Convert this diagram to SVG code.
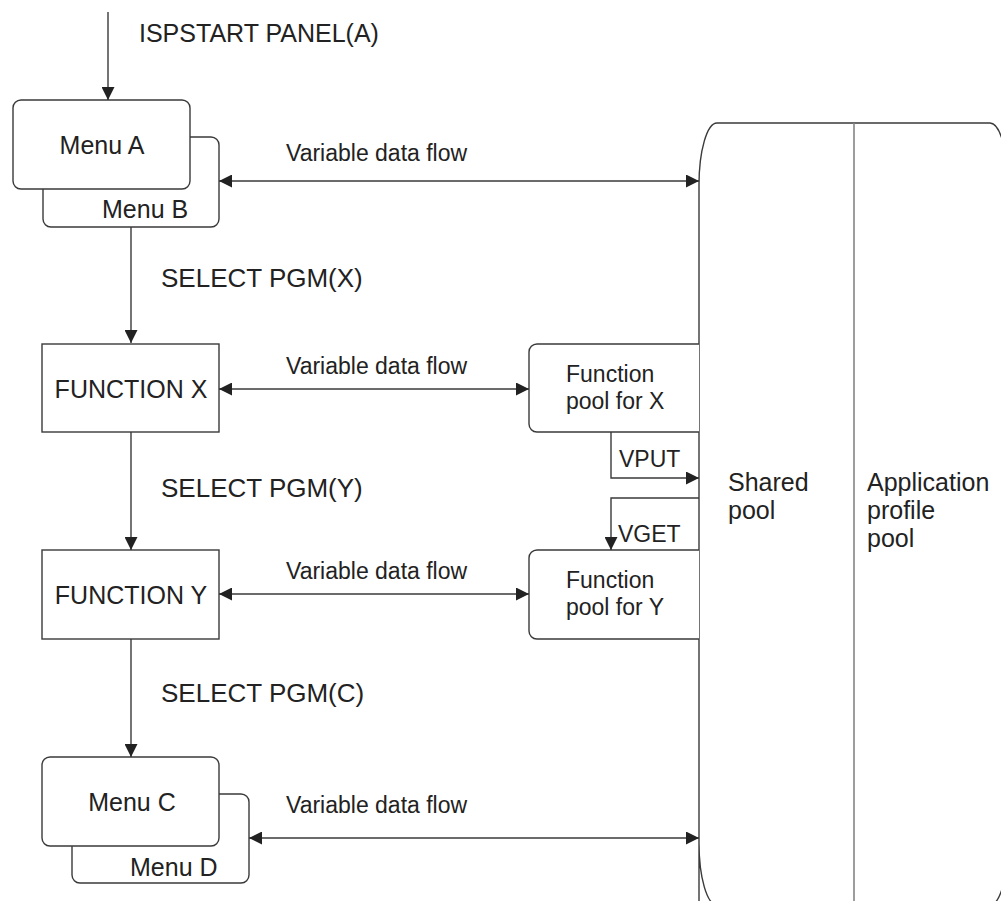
<svg xmlns="http://www.w3.org/2000/svg" width="1001" height="901" viewBox="0 0 1001 901">
<style>
  text { font-family: "Liberation Sans", Arial, Helvetica, sans-serif; fill: #222; }
  .t25 { font-size: 25px; }
  .t23 { font-size: 23px; }
  .t26 { font-size: 26px; }
  .box { fill: #fff; stroke: #3a3a3a; stroke-width: 1.4; }
  .conn { fill: none; stroke: #3a3a3a; stroke-width: 1.4; }
  .div { fill: none; stroke: #858585; stroke-width: 1.6; }
  .mid { text-anchor: middle; }
</style>
<defs>
  <marker id="arr" markerUnits="userSpaceOnUse" markerWidth="14" markerHeight="13" refX="13" refY="6.5" orient="auto-start-reverse">
    <path d="M0,0 L13,6.5 L0,13 z" fill="#222"/>
  </marker>
</defs>

<g id="pool">
  <path class="box" d="M699,905 V185 A18,62 0 0 1 717,123 H990 A18,62 0 0 1 1008,185 V843 A18,62 0 0 1 990,905 H717 A18,62 0 0 1 699,843 Z"/>
  <line class="div" x1="854" y1="123" x2="854" y2="905"/>
  <text class="t25" x="728" y="491">Shared</text>
  <text class="t25" x="728" y="519">pool</text>
  <text class="t25" x="867" y="491">Application</text>
  <text class="t25" x="867" y="519">profile</text>
  <text class="t25" x="867" y="547">pool</text>
</g>

<g id="menuAB">
  <rect class="box" x="43" y="137" width="176" height="90" rx="8"/>
  <text class="t25" x="102" y="218">Menu B</text>
  <rect class="box" x="13" y="100" width="177" height="89" rx="8"/>
  <text class="t25 mid" x="102" y="154">Menu A</text>
</g>

<g id="functionX">
  <rect class="box" x="42" y="344" width="177" height="88"/>
  <text class="t25 mid" x="131" y="398">FUNCTION X</text>
</g>

<g id="functionY">
  <rect class="box" x="42" y="550" width="177" height="89"/>
  <text class="t25 mid" x="131" y="604">FUNCTION Y</text>
</g>

<g id="menuCD">
  <rect class="box" x="72" y="794" width="177" height="89" rx="8"/>
  <text class="t25" x="130" y="876">Menu D</text>
  <rect class="box" x="42" y="757" width="177" height="89" rx="8"/>
  <text class="t25 mid" x="132" y="811">Menu C</text>
</g>

<g id="poolX">
  <path class="box" d="M699,344 H537 A8,8 0 0 0 529,352 V424 A8,8 0 0 0 537,432 H699"/>
  <text class="t23" x="566" y="382">Function</text>
  <text class="t23" x="566" y="409">pool for X</text>
</g>

<g id="poolY">
  <path class="box" d="M699,550 H537 A8,8 0 0 0 529,558 V631 A8,8 0 0 0 537,639 H699"/>
  <text class="t23" x="566" y="588">Function</text>
  <text class="t23" x="566" y="615">pool for Y</text>
</g>

<g id="connectors">
  <path class="conn" d="M108,12 V100" marker-end="url(#arr)"/>
  <path class="conn" d="M131,227 V343" marker-end="url(#arr)"/>
  <path class="conn" d="M131,432 V550" marker-end="url(#arr)"/>
  <path class="conn" d="M131,639 V757" marker-end="url(#arr)"/>
  <path class="conn" d="M219,181 H699" marker-start="url(#arr)" marker-end="url(#arr)"/>
  <path class="conn" d="M219,389 H529" marker-start="url(#arr)" marker-end="url(#arr)"/>
  <path class="conn" d="M219,594 H529" marker-start="url(#arr)" marker-end="url(#arr)"/>
  <path class="conn" d="M249,838 H699" marker-start="url(#arr)" marker-end="url(#arr)"/>
  <path class="conn" d="M611,432 V478 H699" marker-end="url(#arr)"/>
  <path class="conn" d="M699,498 H611 V550" marker-end="url(#arr)"/>
</g>

<g id="labels">
  <text class="t25" x="139" y="42">ISPSTART PANEL(A)</text>
  <text class="t23" x="286" y="161">Variable data flow</text>
  <text class="t23" x="286" y="374">Variable data flow</text>
  <text class="t23" x="286" y="579">Variable data flow</text>
  <text class="t23" x="286" y="813">Variable data flow</text>
  <text class="t26" x="161" y="287">SELECT PGM(X)</text>
  <text class="t26" x="161" y="497">SELECT PGM(Y)</text>
  <text class="t26" x="161" y="702">SELECT PGM(C)</text>
  <text class="t23" x="619" y="467">VPUT</text>
  <text class="t23" x="618" y="542">VGET</text>
</g>
</svg>
